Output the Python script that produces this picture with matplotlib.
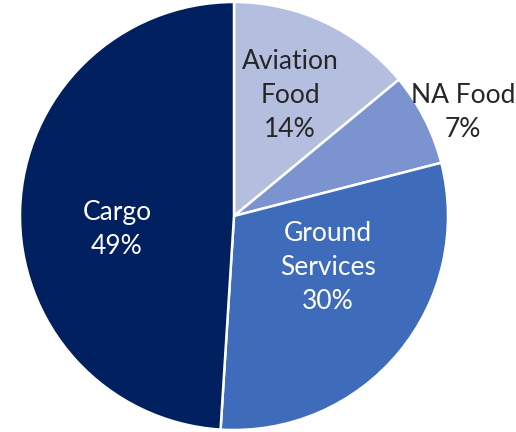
import numpy as np
import matplotlib.pyplot as plt

# ── Données ──────────────────────────────────────────────
labels = ['Aviation\nFood', 'NA Food', 'Ground\nServices', 'Cargo']
shares = [14, 7, 30, 49]
colors = ['#b4bfe0', '#7b94cf', '#3e6bba', '#00205f']
txt_colors = ['#262626', '#262626', 'white', 'white']
# position des étiquettes (fraction du rayon, angle en degrés)
lab_pos = [(0.623, 65.1), (1.175, 24.4), (0.50, -28.9), (0.551, 186.8)]

plt.rcParams['font.family'] = ['Lato', 'DejaVu Sans']

fig = plt.figure(figsize=(5.16, 4.32), dpi=100)
ax = fig.add_axes([0, 0, 1, 1])

ax.pie(shares, colors=colors, startangle=90, counterclock=False, radius=1,
       wedgeprops=dict(edgecolor='white', linewidth=1.8))

for lab, v, c, (r, a) in zip(labels, shares, txt_colors, lab_pos):
    x = r * np.cos(np.radians(a))
    y = r * np.sin(np.radians(a))
    ax.text(x, y, f'{lab}\n{v}%', ha='center', va='center', color=c,
            fontsize=19, linespacing=1.45)

ax.set_xlim(-234 / 214, (516 - 234) / 214)
ax.set_ylim(-216 / 214, 216 / 214)
ax.set_aspect('equal')
ax.axis('off')

plt.savefig('out.png', dpi=100)
